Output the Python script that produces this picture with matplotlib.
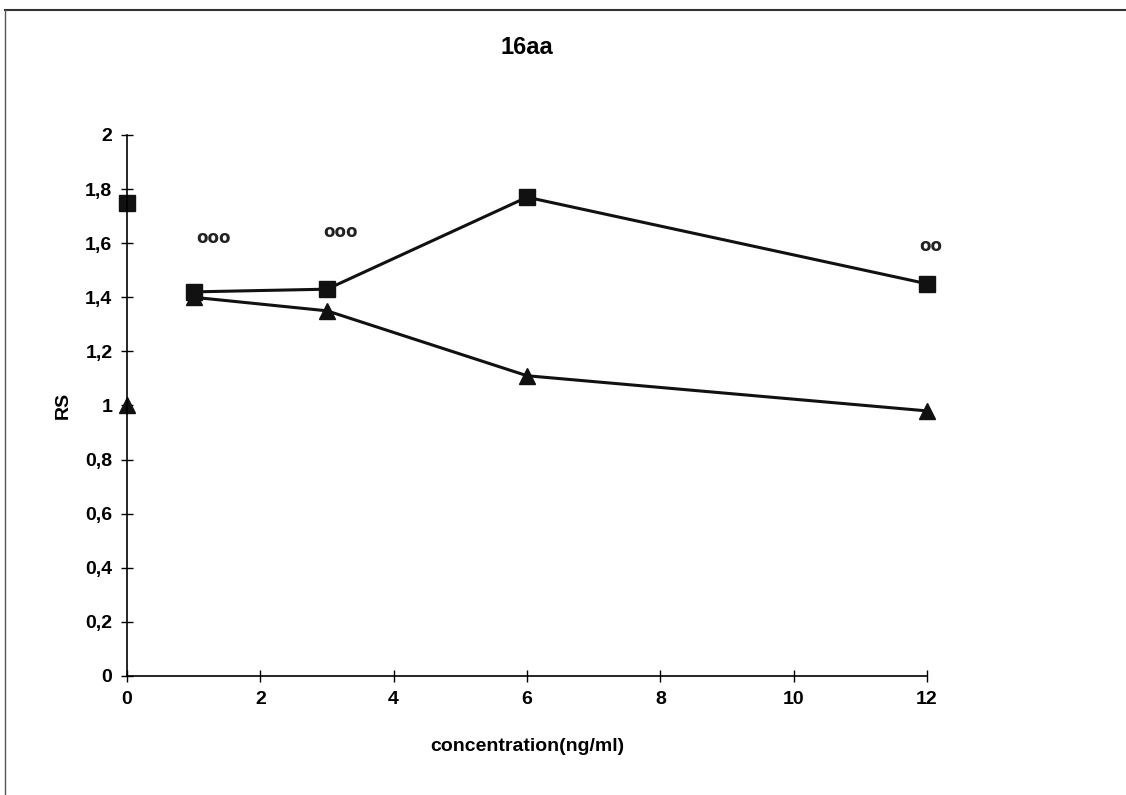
import numpy as np
import matplotlib
matplotlib.use('Agg')
import matplotlib.pyplot as plt
from matplotlib.lines import Line2D

plt.rcParams['font.family'] = ['Liberation Sans Narrow', 'Liberation Sans', 'DejaVu Sans']

# data
conc = [1, 3, 6, 12]
rs_square = [1.42, 1.43, 1.77, 1.45]
rs_triangle = [1.40, 1.35, 1.11, 0.98]
ctrl_x = [0]
ctrl_square = [1.75]
ctrl_triangle = [1.00]
sig_x = [1.3, 3.2, 12.05]
sig_y = [1.62, 1.64, 1.59]
sig_labels = ['ooo', 'ooo', 'oo']

fig = plt.figure(figsize=(11.26, 7.95), dpi=100)
ax = fig.add_axes([0.1128, 0.1497, 0.7105, 0.6805])

ax.plot(conc, rs_square, color='#111111', lw=2.2, marker='s', ms=11, clip_on=False)
ax.plot(conc, rs_triangle, color='#111111', lw=2.2, marker='^', ms=12, clip_on=False)
ax.plot(ctrl_x, ctrl_square, ls='none', color='#111111', marker='s', ms=11, clip_on=False)
ax.plot(ctrl_x, ctrl_triangle, ls='none', color='#111111', marker='^', ms=12, clip_on=False)
for x, y, s in zip(sig_x, sig_y, sig_labels):
    ax.text(x, y, s, ha='center', va='center', fontsize=12, fontweight='bold',
            color='#222222', family='DejaVu Sans')

ax.set_xlim(0, 12)
ax.set_ylim(0, 2)
ax.set_xticks(np.arange(0, 13, 2))
ax.set_yticks(np.arange(0, 2.01, 0.2))
ax.set_yticklabels(['0', '0,2', '0,4', '0,6', '0,8', '1', '1,2', '1,4', '1,6', '1,8', '2'])
ax.spines['top'].set_visible(False)
ax.spines['right'].set_visible(False)
for sp in ['left', 'bottom']:
    ax.spines[sp].set_linewidth(1.2)
ax.tick_params(direction='inout', length=9, width=1.0, labelsize=14, pad=6)
for lab in ax.get_xticklabels() + ax.get_yticklabels():
    lab.set_fontweight('bold')

ax.set_title('16aa', fontsize=17, fontweight='bold', pad=58)
ax.set_xlabel('concentration(ng/ml)', fontsize=14, fontweight='bold', labelpad=22)
ax.set_ylabel('RS', fontsize=14, fontweight='bold', labelpad=10)

# scan frame
fig.add_artist(Line2D([0.0045, 1.0], [0.987, 0.987], transform=fig.transFigure, color='#333333', lw=1.5))
fig.add_artist(Line2D([0.0045, 0.0045], [0.0, 0.987], transform=fig.transFigure, color='#555555', lw=1.0))

fig.savefig('out.png', dpi=100)
